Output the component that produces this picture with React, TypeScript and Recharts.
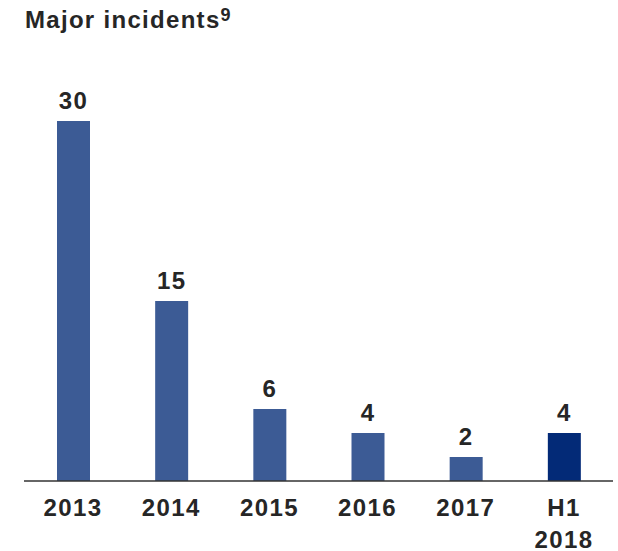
import React from "react";
import { BarChart, Bar, XAxis, YAxis, LabelList, Cell } from "recharts";

const categories = ["2013", "2014", "2015", "2016", "2017", "H1 2018"];
const incidents = [30, 15, 6, 4, 2, 4];
const barColors = ["#3C5B95", "#3C5B95", "#3C5B95", "#3C5B95", "#3C5B95", "#032A77"];
const titleText = "Major incidents";
const titleSup = "9";

const data = categories.map((c, i) => ({ name: c, value: incidents[i] }));

const FONT = "'Liberation Sans', Arial, sans-serif";
const TEXT_COLOR = "#262626";

const Tick = (props: any) => {
  const { x, y, payload } = props;
  const words = String(payload.value).split(" ");
  return (
    <text
      x={x}
      y={y}
      textAnchor="middle"
      fontFamily={FONT}
      fontWeight="bold"
      fontSize={24}
      letterSpacing={1.4}
      fill={TEXT_COLOR}
    >
      {words.map((w, i) => (
        <tspan key={i} x={x} dy={i === 0 ? 34.5 : 32}>
          {w}
        </tspan>
      ))}
    </text>
  );
};

const ValueLabel = (props: any) => {
  const { x, y, width, value } = props;
  return (
    <text
      x={Number(x) + Number(width) / 2}
      y={Number(y) - 12}
      textAnchor="middle"
      fontFamily={FONT}
      fontWeight="bold"
      fontSize={24}
      letterSpacing={1.4}
      fill={TEXT_COLOR}
    >
      {value}
    </text>
  );
};

export default function App() {
  return (
    <div style={{ position: "absolute", left: 0, top: 0, width: 618, height: 551, background: "#fff" }}>
      <BarChart
        width={618}
        height={551}
        data={data}
        margin={{ top: 121, right: 5, bottom: 0, left: 24 }}
        barCategoryGap={0}
      >
        <YAxis hide domain={[0, 30]} />
        <XAxis
          dataKey="name"
          height={70}
          interval={0}
          tickLine={false}
          tickSize={0}
          tickMargin={0}
          axisLine={{ stroke: "#333333", strokeWidth: 1.5 }}
          tick={<Tick />}
        />
        <Bar dataKey="value" barSize={33} isAnimationActive={false}>
          {data.map((d, i) => (
            <Cell key={d.name} fill={barColors[i]} />
          ))}
          <LabelList dataKey="value" content={<ValueLabel />} />
        </Bar>
      </BarChart>
      <svg width={618} height={60} style={{ position: "absolute", left: 0, top: 0 }}>
        <text x={25} y={28} fontFamily={FONT} fontWeight="bold" fontSize={24} letterSpacing={1.3} fill={TEXT_COLOR}>
          {titleText}
          <tspan fontSize={18} dy={-7} letterSpacing={0.5}>{titleSup}</tspan>
        </text>
      </svg>
    </div>
  );
}
